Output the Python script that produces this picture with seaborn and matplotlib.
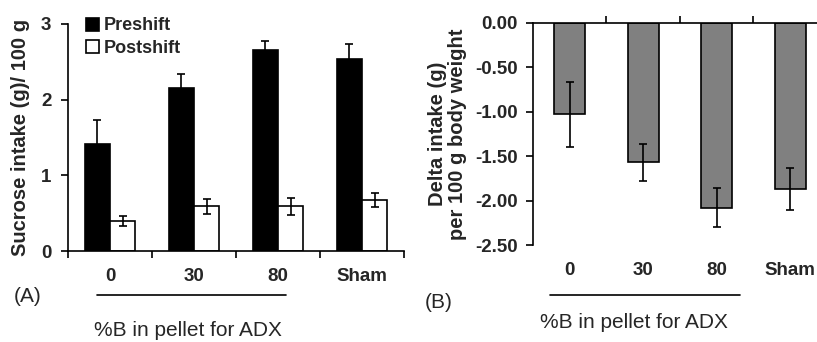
import matplotlib
matplotlib.use("Agg")
import matplotlib.pyplot as plt
from matplotlib.patches import Patch
from matplotlib.lines import Line2D
import seaborn as sns
import pandas as pd

# Panel A data: sucrose intake per 100 g body weight
groups = ["0", "30", "80", "Sham"]
preshift = [1.42, 2.16, 2.66, 2.54]
preshift_err = [0.31, 0.18, 0.12, 0.19]
postshift = [0.40, 0.59, 0.59, 0.67]
postshift_err = [0.065, 0.095, 0.115, 0.09]

# Panel B data: change in intake (post - pre)
delta = [-1.03, -1.57, -2.08, -1.87]
delta_err = [0.37, 0.21, 0.22, 0.235]
delta_ticks = [0.0, -0.5, -1.0, -1.5, -2.0, -2.5]
delta_ticklabels = ["0.00", "-0.50", "-1.00", "-1.50", "-2.00", "-2.50"]

sns.set_theme(style="white")
plt.rcParams["font.family"] = ["Liberation Sans", "DejaVu Sans"]
plt.rcParams["axes.linewidth"] = 1.2

fig = plt.figure(figsize=(8.17, 3.42), dpi=100)
axA = fig.add_axes([0.0832, 0.266, 0.4113, 0.664])
axB = fig.add_axes([0.6524, 0.2836, 0.3596, 0.6494])

fs_tick = 13.5
fs_label = 14.5
fs_leg = 13
fs_text = 15

# ---------- Panel A ----------
dfA = pd.DataFrame({
    "group": groups * 2,
    "phase": ["Preshift"] * 4 + ["Postshift"] * 4,
    "value": preshift + postshift,
})
sns.barplot(data=dfA, x="group", y="value", hue="phase", order=groups,
            hue_order=["Preshift", "Postshift"],
            palette={"Preshift": "black", "Postshift": "white"},
            width=0.6, errorbar=None, edgecolor="black", linewidth=1.2,
            legend=False, ax=axA)

bars = axA.patches
pre_x = [b.get_x() + b.get_width() / 2 for b in bars[:4]]
post_x = [b.get_x() + b.get_width() / 2 for b in bars[4:8]]
axA.errorbar(pre_x, preshift, yerr=preshift_err, fmt="none", ecolor="black",
             elinewidth=1.2, capsize=3, capthick=1.2)
axA.errorbar(post_x, postshift, yerr=postshift_err, fmt="none", ecolor="black",
             elinewidth=1.2, capsize=3, capthick=1.2)

axA.set_xlim(-0.5, 3.5)
axA.set_ylim(0, 3)
axA.set_yticks([0, 1, 2, 3])
axA.set_xticks(range(4))
axA.set_xticklabels(groups, fontweight="bold", fontsize=fs_tick)
axA.set_xticks([-0.5, 0.5, 1.5, 2.5, 3.5], minor=True)
axA.tick_params(axis="x", which="major", length=0, pad=12)
axA.tick_params(axis="x", which="minor", length=5, width=1.2, direction="out",
                bottom=True, color="black")
axA.tick_params(axis="y", length=5, width=1.2, direction="out", left=True,
                color="black", labelsize=fs_tick, pad=7)
for t in axA.get_yticklabels():
    t.set_fontweight("bold")
axA.set_xlabel("")
axA.set_ylabel("Sucrose intake (g)/ 100 g", fontsize=fs_label,
               fontweight="bold", labelpad=8)
for s in ["top", "right"]:
    axA.spines[s].set_visible(False)
for s in ["left", "bottom"]:
    axA.spines[s].set_color("black")

handles = [Patch(facecolor="black", edgecolor="black", linewidth=1.2),
           Patch(facecolor="white", edgecolor="black", linewidth=1.2)]
axA.legend(handles, ["Preshift", "Postshift"], loc="upper left",
           bbox_to_anchor=(0.004, 1.1), frameon=False, handlelength=0.75,
           handleheight=0.75, handletextpad=0.25, labelspacing=0.3,
           prop={"weight": "bold", "size": fs_leg})

fig.text(14 / 817, 1 - 296 / 342, "(A)", fontsize=fs_text, ha="left",
         va="center")
fig.add_artist(Line2D([97 / 817, 286 / 817], [1 - 295 / 342] * 2,
                      color="black", linewidth=1.2))
fig.text(188 / 817, 1 - 330 / 342, "%B in pellet for ADX", fontsize=fs_text,
         ha="center", va="center")

# ---------- Panel B ----------
dfB = pd.DataFrame({"group": groups, "delta": delta})
sns.barplot(data=dfB, x="group", y="delta", order=groups, color="#808080",
            width=0.42, errorbar=None, edgecolor="black", linewidth=1.2,
            saturation=1, ax=axB)
bx = [b.get_x() + b.get_width() / 2 for b in axB.patches[:4]]
axB.errorbar(bx, delta, yerr=delta_err, fmt="none", ecolor="black",
             elinewidth=1.2, capsize=3, capthick=1.2)

axB.set_xlim(-0.5, 3.5)
axB.set_ylim(-2.5, 0)
axB.set_yticks(delta_ticks)
axB.set_yticklabels(delta_ticklabels, fontweight="bold", fontsize=fs_tick)
axB.set_xticks(range(4))
axB.set_xticklabels(groups, fontweight="bold", fontsize=fs_tick)
axB.set_xticks([0.5, 1.5, 2.5], minor=True)
axB.tick_params(axis="x", which="major", length=0, pad=12)
axB.tick_params(axis="x", which="minor", length=5, width=1.2, direction="out",
                bottom=False, top=True, color="black")
axB.tick_params(axis="y", length=5, width=1.2, direction="out", left=True,
                color="black", pad=6)
axB.set_xlabel("")
axB.set_ylabel("Delta intake (g)\nper 100 g body weight", fontsize=fs_label,
               fontweight="bold", labelpad=6, linespacing=1.05)
axB.spines["bottom"].set_visible(False)
axB.spines["right"].set_visible(False)
axB.spines["top"].set_visible(True)
axB.spines["top"].set_color("black")
axB.spines["left"].set_color("black")

fig.text(425 / 817, 1 - 302 / 342, "(B)", fontsize=fs_text, ha="left",
         va="center")
fig.add_artist(Line2D([550 / 817, 740 / 817], [1 - 295 / 342] * 2,
                      color="black", linewidth=1.2))
fig.text(634 / 817, 1 - 322 / 342, "%B in pellet for ADX", fontsize=fs_text,
         ha="center", va="center")

fig.savefig("out.png", dpi=100)
